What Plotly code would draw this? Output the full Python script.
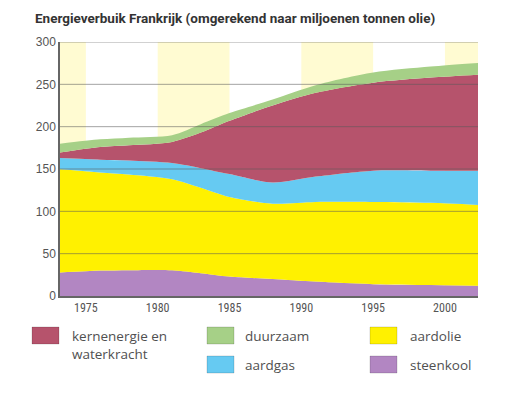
import plotly.graph_objects as go

jaren = [1973, 1976, 1978, 1981, 1983, 1985, 1988, 1991, 1995, 1999, 2003]
steenkool = [27.5, 30, 30.5, 30.5, 27, 23, 20, 17, 14, 13, 12]
aardolie = [122.5, 116, 113, 107.5, 101, 94, 89, 94, 97, 97, 95]
aardgas = [13, 15, 16.5, 19, 23, 27, 25, 30, 37, 38, 41]
kernenergie = [6, 15, 18, 25, 42, 63, 91, 99, 104, 110, 114]
duurzaam = [10.5, 9, 9, 8, 10, 9, 7, 9, 12, 13, 14]

y_ticks = [0, 50, 100, 150, 200, 250, 300]
x_ticks = [1975, 1980, 1985, 1990, 1995, 2000]
banden = [(1970, 1975), (1980, 1985), (1990, 1995), (2000, 2005)]

series = [
    ("steenkool", steenkool, "#B286C2"),
    ("aardolie", aardolie, "#FFF100"),
    ("aardgas", aardgas, "#66CAF2"),
    ("kernenergie en waterkracht", kernenergie, "#B6536C"),
    ("duurzaam", duurzaam, "#A6D087"),
]

X_RANGE = [1973.2, 2002.3]
OFF = 8  # body-marge van de html-pagina
W, H = 514 - OFF, 408 - OFF
L, R, T, B = 60 - OFF, 478 - OFF, 42 - OFF, 296 - OFF

def px(x):
    return (x - OFF - L) / (R - L)

def py(y):
    return (B - (y - OFF)) / (B - T)

fig = go.Figure()

for naam, waarden, kleur in series:
    fig.add_trace(go.Scatter(
        x=jaren, y=waarden, name=naam,
        mode='lines', stackgroup='one',
        line=dict(width=0, shape='spline', smoothing=0.8, color=kleur),
        fillcolor=kleur,
        showlegend=False
    ))

shapes = []
# lichtgele achtergrondbanden
for a, b in banden:
    shapes.append(dict(
        type='rect', xref='x', yref='paper',
        x0=max(a, X_RANGE[0]), x1=min(b, X_RANGE[1]), y0=0, y1=1,
        fillcolor='#FFFBD2', line=dict(width=0), layer='below'
    ))
# rasterlijnen boven de vlakken
for t in y_ticks[1:]:
    shapes.append(dict(
        type='line', xref='paper', yref='y', x0=0, x1=1, y0=t, y1=t,
        line=dict(color='rgba(90,90,90,0.55)', width=1), layer='above'
    ))

# legenda, handmatig
legenda = [
    ("kernenergie en<br>waterkracht", "#B6536C", 32, 327, 70, 345),
    ("duurzaam", "#A6D087", 207, 327, 243, 336),
    ("aardgas", "#66CAF2", 207, 356, 243, 365),
    ("aardolie", "#FFF100", 370, 327, 408, 336),
    ("steenkool", "#B286C2", 370, 356, 408, 365),
]
annotations = []
for tekst, kleur, bx, by, tx, ty in legenda:
    shapes.append(dict(
        type='rect', xref='paper', yref='paper',
        x0=px(bx), x1=px(bx + 27), y0=py(by + 17), y1=py(by),
        fillcolor=kleur, line=dict(color='rgba(0,0,0,0.15)', width=1)
    ))
    annotations.append(dict(
        text=tekst, xref='paper', yref='paper', x=px(tx), y=py(ty),
        xanchor='left', yanchor='middle', align='left', showarrow=False,
        font=dict(family='Open Sans', size=13.5, color='#505050')
    ))

annotations.append(dict(
    text='<b>Energieverbuik Frankrijk (omgerekend naar miljoenen tonnen olie)</b>',
    xref='paper', yref='paper', x=px(33), y=py(18),
    xanchor='left', yanchor='middle', showarrow=False,
    font=dict(family='Roboto', size=13.5, color='#333333')
))

fig.update_layout(
    width=W, height=H,
    margin=dict(l=L, r=W - R, t=T, b=H - B),
    plot_bgcolor='white', paper_bgcolor='white',
    shapes=shapes, annotations=annotations,
    showlegend=False
)

fig.update_xaxes(
    range=X_RANGE, tickvals=x_ticks, showgrid=False, zeroline=False,
    showline=True, linecolor='#666666', linewidth=1.5, ticks='',
    tickfont=dict(family='Roboto Condensed, Roboto', size=12, color='#555555'),
    layer='above traces'
)
fig.update_yaxes(
    range=[0, 300], tickvals=y_ticks, showgrid=False, zeroline=False,
    showline=True, linecolor='#666666', linewidth=1.5, ticks='',
    tickfont=dict(family='Liberation Sans', size=12, color='#555555'),
    layer='above traces'
)

fig.write_html("out.html")
